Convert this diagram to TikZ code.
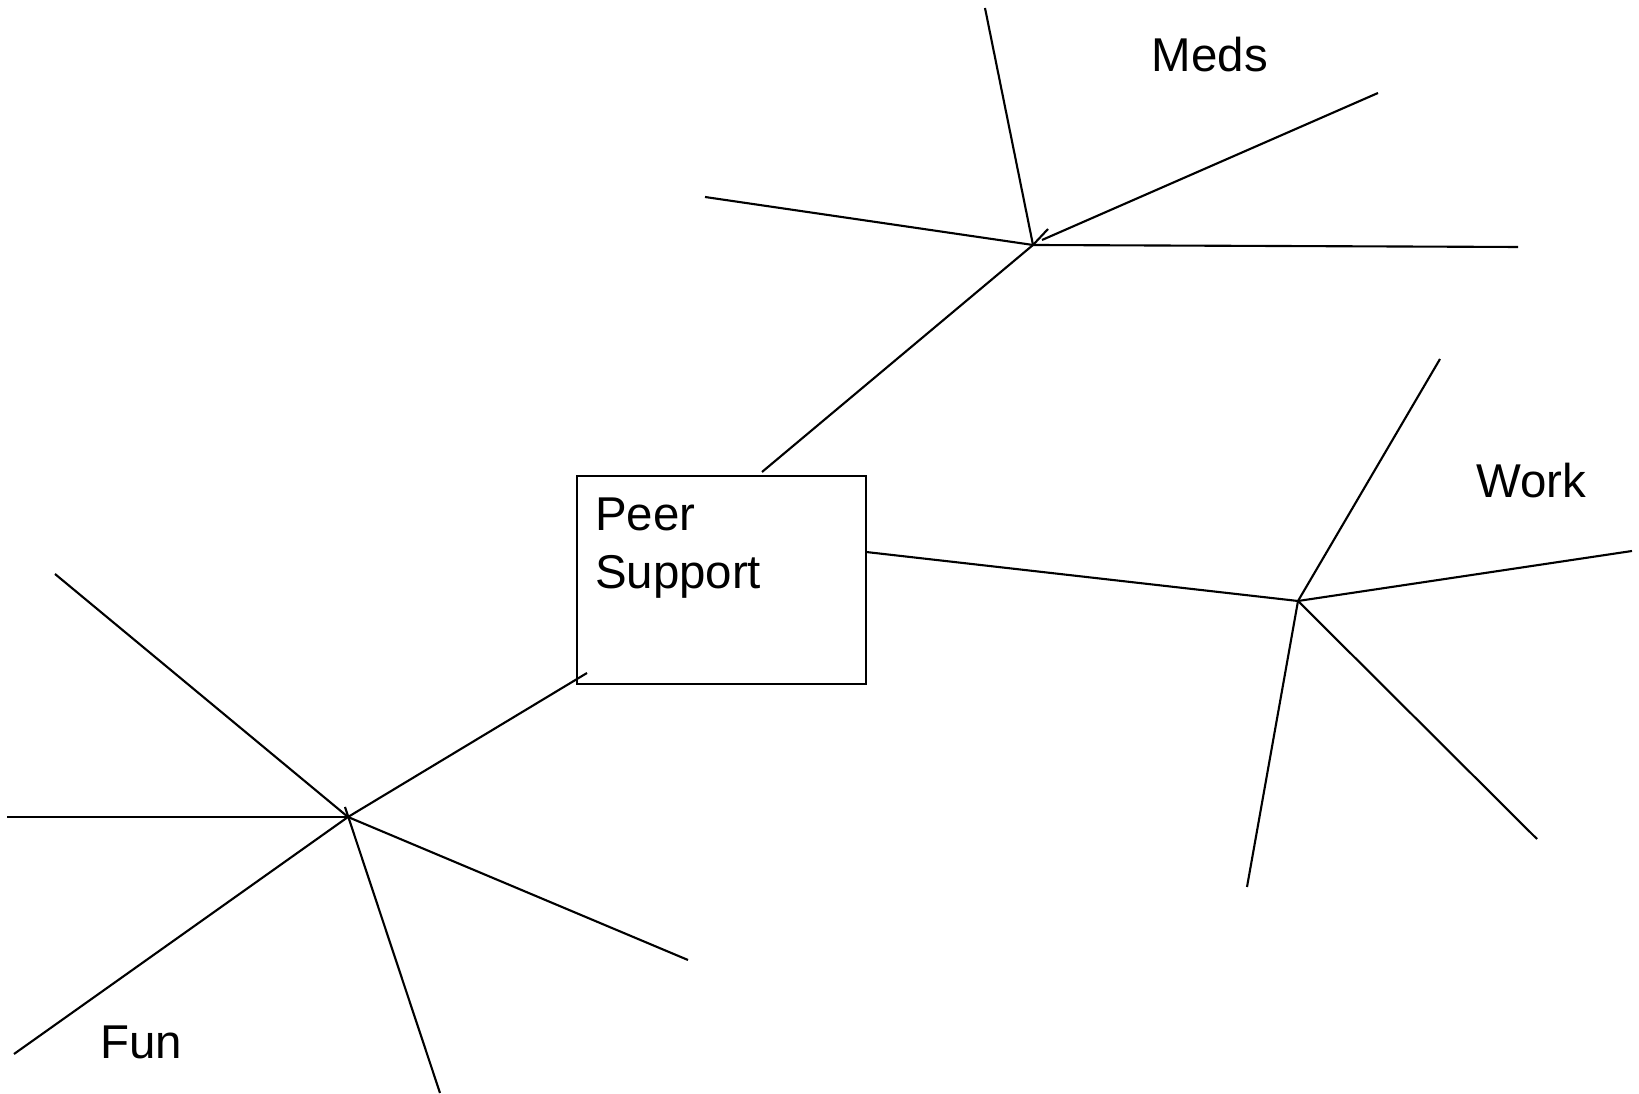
\documentclass[tikz,border=0pt]{standalone}
\usepackage{fontspec}
\setmainfont{Liberation Sans}

\begin{document}
\begin{tikzpicture}[align=left, line width=0.6pt,
    topic/.style={font=\fontsize{13.5pt}{16.5pt}\selectfont, inner sep=0, outer sep=0}]
      \useasboundingbox (0,0) rectangle (16.39,10.94);

      \node[draw, minimum width=2.89cm, minimum height=2.08cm, inner sep=0] (PS) at (7.215,5.14) {};
      \node[topic, anchor=north west] (PSText) at (5.95,5.96) {Peer\\Support};
      \node[topic] (Meds) at (12.10,10.39) {Meds};
      \node[topic] (Work) at (15.31,6.13) {Work};
      \node[topic] (Fun) at (1.41,0.52) {Fun};

      % hubs
      \coordinate (MedsHub) at (10.33,8.49);
      \coordinate (WorkHub) at (12.98,4.93);
      \coordinate (FunHub) at (3.48,2.77);

      % ends at the box
      \coordinate (PS1) at (7.62,6.22);
      \coordinate (PS2) at (8.66,5.42);
      \coordinate (PS3) at (5.87,4.21);

      % meds spokes
      \coordinate (Meds0) at (10.48,8.65);
      \coordinate (Meds1) at (9.85,10.86);
      \coordinate (Meds2) at (7.05,8.97);
      \coordinate (Meds3) at (15.18,8.47);
      \coordinate (Meds4a) at (10.42,8.54);
      \coordinate (Meds4) at (13.78,10.01);

      \draw (PS1) -- (MedsHub) -- (Meds0);
      \draw (MedsHub) -- (Meds1);
      \draw (MedsHub) -- (Meds2);
      \draw (MedsHub) -- (Meds3);
      \draw (Meds4a) -- (Meds4);

      % work spokes
      \coordinate (Work1) at (14.40,7.35);
      \coordinate (Work2) at (16.32,5.43);
      \coordinate (Work3) at (15.37,2.55);
      \coordinate (Work4) at (12.47,2.07);

      \draw (PS2) -- (WorkHub);
      \draw (WorkHub) -- (Work1);
      \draw (WorkHub) -- (Work2);
      \draw (WorkHub) -- (Work3);
      \draw (WorkHub) -- (Work4);

      % fun spokes
      \coordinate (Fun1) at (0.55,5.20);
      \coordinate (Fun2) at (0.07,2.77);
      \coordinate (Fun3) at (0.14,0.40);
      \coordinate (Fun4a) at (3.45,2.87);
      \coordinate (Fun4) at (4.40,0.01);
      \coordinate (Fun5) at (6.88,1.34);

      \draw (PS3) -- (FunHub);
      \draw (FunHub) -- (Fun1);
      \draw (FunHub) -- (Fun2);
      \draw (FunHub) -- (Fun3);
      \draw (Fun4a) -- (Fun4);
      \draw (FunHub) -- (Fun5);
    \end{tikzpicture}
\end{document}
